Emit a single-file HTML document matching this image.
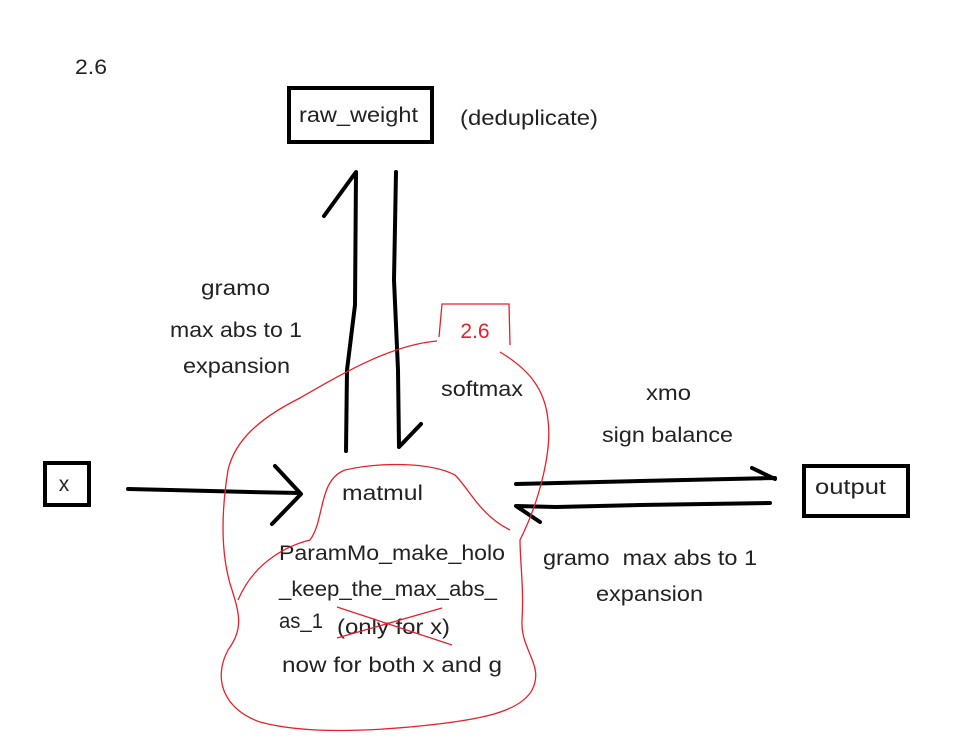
<!DOCTYPE html>
<html><head><meta charset="utf-8"><style>
html,body{margin:0;padding:0;background:#fff;}
svg{display:block;}
text{font-family:"Liberation Sans",sans-serif;font-size:21px;fill:#222;}
</style></head><body>
<svg width="953" height="743" viewBox="0 0 953 743" xmlns="http://www.w3.org/2000/svg">
<text x="75" y="74" textLength="32" lengthAdjust="spacingAndGlyphs">2.6</text>
<rect x="289" y="88" width="143" height="54" fill="none" stroke="#000" stroke-width="4"/>
<text x="299" y="122" textLength="119" lengthAdjust="spacingAndGlyphs">raw_weight</text>
<text x="460" y="125" textLength="138" lengthAdjust="spacingAndGlyphs">(deduplicate)</text>

<g fill="none" stroke="#000" stroke-width="4" stroke-linecap="round" stroke-linejoin="round">
<path d="M346 451 L347 370 L355 305 L356 172 L324 216"/>
<path d="M396 172 L394 280 L398 370 L399 447 L421 424"/>
<path d="M128 489 L170 490 L250 492 L300 493 M275 466 L301 494 L272 524"/>
<path d="M516 484 L640 481 L775 478 M752 468 L775 479"/>
<path d="M770 503 L640 505 L556 507 L516 506 L540 522"/>
</g>
<rect x="45" y="463" width="44" height="42" fill="none" stroke="#000" stroke-width="4"/>
<text x="64" y="491" text-anchor="middle">x</text>
<rect x="804" y="466" width="104" height="50" fill="none" stroke="#000" stroke-width="4"/>
<text x="815" y="494" textLength="71" lengthAdjust="spacingAndGlyphs">output</text>

<text x="201" y="295" textLength="69" lengthAdjust="spacingAndGlyphs">gramo</text>
<text x="170" y="337" textLength="132" lengthAdjust="spacingAndGlyphs">max abs to 1</text>
<text x="183" y="373" textLength="107" lengthAdjust="spacingAndGlyphs">expansion</text>
<text x="441" y="396" textLength="82" lengthAdjust="spacingAndGlyphs">softmax</text>
<text x="646" y="400" textLength="45" lengthAdjust="spacingAndGlyphs">xmo</text>
<text x="602" y="442" textLength="131" lengthAdjust="spacingAndGlyphs">sign balance</text>
<text x="543" y="565" textLength="214" lengthAdjust="spacingAndGlyphs">gramo&#160; max abs to 1</text>
<text x="596" y="601" textLength="107" lengthAdjust="spacingAndGlyphs">expansion</text>
<text x="342" y="500" textLength="81" lengthAdjust="spacingAndGlyphs">matmul</text>
<text x="279" y="560" textLength="226" lengthAdjust="spacingAndGlyphs">ParamMo_make_holo</text>
<text x="279" y="596" textLength="218" lengthAdjust="spacingAndGlyphs">_keep_the_max_abs_</text>
<text x="279" y="628" textLength="44" lengthAdjust="spacingAndGlyphs">as_1</text>
<text x="337" y="634" textLength="113" lengthAdjust="spacingAndGlyphs">(only for x)</text>
<text x="282" y="672" textLength="220" lengthAdjust="spacingAndGlyphs">now for both x and g</text>

<g fill="none" stroke="#e8202a" stroke-width="1.3">
<path d="M439 337 L442 304 L509 304 L510 345"/>
<path d="M437 341 C390 345 340 375 300 398 C260 418 235 440 228 470 C220 520 222 560 232 590 C240 615 243 630 228 650 C212 680 225 710 260 722 C300 733 360 732 420 726 C480 720 520 712 532 690 C545 665 520 650 522 620 C524 590 520 560 520 540 C540 500 552 450 548 420 C545 390 530 370 500 352"/>
<path d="M238 600 C255 560 290 545 310 540 C325 520 318 480 345 470 C380 462 430 462 455 475 C470 490 480 515 510 530"/>
<path d="M337 607 L452 645 M337 638 L442 608"/>
</g>
<text x="475" y="338" text-anchor="middle" style="fill:#e8202a">2.6</text>
</svg>
</body></html>
